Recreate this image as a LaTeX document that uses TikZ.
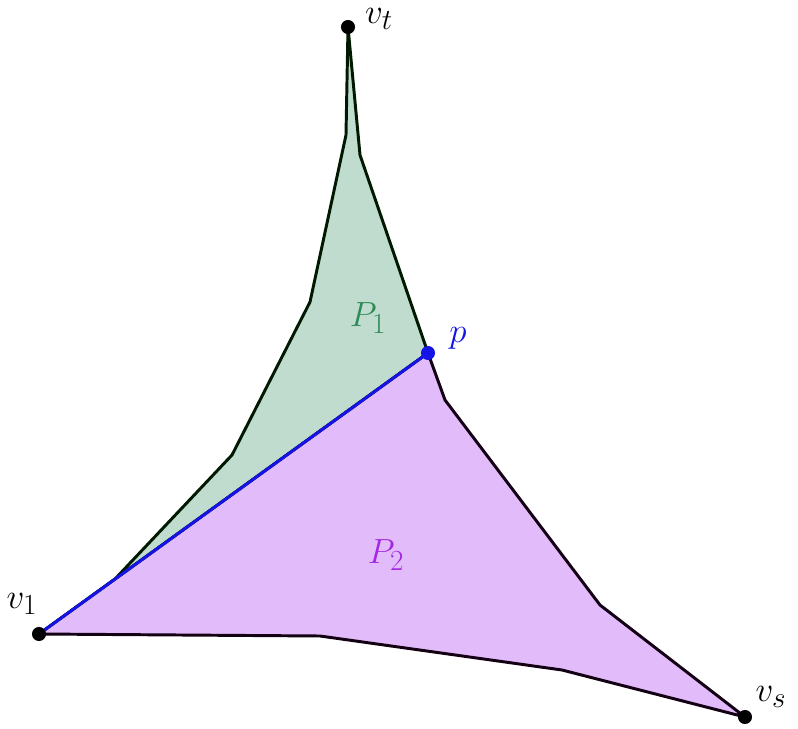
\documentclass[tikz,border=0pt]{standalone}
\usepackage{amsmath}
\begin{document}
\begin{tikzpicture}[x=0.025cm,y=-0.025cm,
  outline/.style={draw=black!90!green, line width=2.1pt, line join=round},
  dot/.style={circle, fill=black, inner sep=0pt, minimum size=10pt},
  lab/.style={font=\fontsize{30}{36}\selectfont, inner sep=0pt}]
\definecolor{gfill}{RGB}{192,220,206}
\definecolor{pfill}{RGB}{226,188,250}
\definecolor{gtext}{RGB}{46,139,87}
\definecolor{ptext}{RGB}{165,40,225}
\definecolor{bline}{RGB}{20,20,230}
\useasboundingbox (0,0) rectangle (798,729);
\coordinate (vt) at (348,27);
\coordinate (v1) at (39,634);
\coordinate (vs) at (745,717);
\coordinate (p) at (428,353);
% P1
\filldraw[outline, fill=gfill] (v1) -- (115,579) -- (232,455) -- (310,302) -- (346,135) -- (vt) -- (360,155) -- (p) -- cycle;
% P2
\filldraw[outline, draw=black!85!violet, fill=pfill] (v1) -- (p) -- (445,400) -- (600,605) -- (vs) -- (562,670) -- (320,636) -- cycle;
\draw[bline, line width=2.1pt] (v1) -- (p);
\node[dot] (nvt) at (vt) {};
\node[dot] (nv1) at (v1) {};
\node[dot] (nvs) at (vs) {};
\node[dot, fill=bline] (np) at (p) {};
\node[lab] (lvt) at (379,19) {$v_t$};
\node[lab] (lv1) at (22,604) {$v_1$};
\node[lab] (lvs) at (771,697) {$v_s$};
\node[lab, text=bline] (lp) at (458,338) {$p$};
\node[lab, text=gtext] (lP1) at (368,318) {$P_1$};
\node[lab, text=ptext] (lP2) at (386,555) {$P_2$};
\end{tikzpicture}
\end{document}
